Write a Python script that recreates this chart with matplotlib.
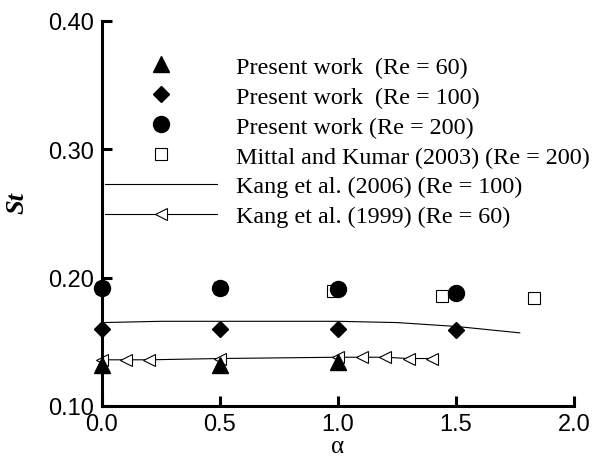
import numpy as np
import matplotlib
matplotlib.use("Agg")
import matplotlib.pyplot as plt
from matplotlib.lines import Line2D

# Strouhal number vs rotation rate alpha
alpha_re60 = [0.0, 0.5, 1.0]
st_re60 = [0.132, 0.132, 0.134]

alpha_re100 = [0.0, 0.5, 1.0, 1.5]
st_re100 = [0.160, 0.160, 0.160, 0.159]

alpha_re200 = [0.0, 0.5, 1.0, 1.5]
st_re200 = [0.192, 0.192, 0.191, 0.188]

alpha_mittal = [0.0, 0.5, 0.98, 1.44, 1.83]
st_mittal = [0.192, 0.192, 0.190, 0.186, 0.184]

alpha_kang06 = [0.0, 0.25, 0.5, 0.75, 1.0, 1.25, 1.5, 1.77]
st_kang06 = [0.165, 0.166, 0.166, 0.166, 0.166, 0.165, 0.162, 0.157]

alpha_kang99 = [0.0, 0.1, 0.2, 0.5, 1.0, 1.1, 1.2, 1.3, 1.4]
st_kang99 = [0.136, 0.136, 0.136, 0.137, 0.138, 0.138, 0.138, 0.137, 0.137]

labels = [
    "Present work  (Re = 60)",
    "Present work  (Re = 100)",
    "Present work (Re = 200)",
    "Mittal and Kumar (2003) (Re = 200)",
    "Kang et al. (2006) (Re = 100)",
    "Kang et al. (1999) (Re = 60)",
]

fig = plt.figure(figsize=(6.16, 4.6), dpi=100)
ax = fig.add_axes([102 / 616, 1 - 407 / 460, (574 - 102) / 616, (407 - 22) / 460])

ax.plot(alpha_kang06, st_kang06, color="black", lw=0.8, clip_on=False)
ax.plot(alpha_kang99, st_kang99, color="black", lw=0.8, marker="<", ms=8,
        mfc="white", mec="black", mew=0.8, clip_on=False)
ax.plot(alpha_mittal, st_mittal, ls="none", marker="s", ms=8.5, mfc="white",
        mec="black", mew=0.8, clip_on=False)
ax.plot(alpha_re60, st_re60, ls="none", marker="^", ms=11, color="black", clip_on=False)
ax.plot(alpha_re100, st_re100, ls="none", marker="D", ms=8.5, color="black", clip_on=False)
ax.plot(alpha_re200, st_re200, ls="none", marker="o", ms=11.5, color="black", clip_on=False)

ax.set_xlim(0, 2.0)
ax.set_ylim(0.10, 0.40)
ax.set_xticks([0.0, 0.5, 1.0, 1.5, 2.0])
ax.set_yticks([0.10, 0.20, 0.30, 0.40])
ax.xaxis.set_major_formatter(plt.FormatStrFormatter("%.1f"))
ax.yaxis.set_major_formatter(plt.FormatStrFormatter("%.2f"))

for side in ["top", "right"]:
    ax.spines[side].set_visible(False)
for side in ["left", "bottom"]:
    ax.spines[side].set_linewidth(2.2)

ax.tick_params(direction="in", length=7, width=2.2, labelsize=17)
ax.tick_params(axis="y", pad=6)
ax.tick_params(axis="x", pad=5)
for lab in ax.get_xticklabels() + ax.get_yticklabels():
    lab.set_family("Liberation Sans")

ax.set_xlabel("α", fontsize=18, family="Liberation Serif", labelpad=0)
ax.set_ylabel("St", fontsize=19, family="Liberation Serif", style="italic",
              weight="bold")
ax.yaxis.set_label_coords(-0.155, 0.53)

handles = [
    Line2D([], [], ls="none", marker="^", ms=11, color="black"),
    Line2D([], [], ls="none", marker="D", ms=8.5, color="black"),
    Line2D([], [], ls="none", marker="o", ms=11.5, color="black"),
    Line2D([], [], ls="none", marker="s", ms=8.5, mfc="white", mec="black", mew=0.8),
    Line2D([], [], color="black", lw=0.8),
    Line2D([], [], color="black", lw=0.8, marker="<", ms=8, mfc="white",
           mec="black", mew=0.8),
]
ax.legend(handles, labels, loc="upper left", bbox_to_anchor=(105 / 616, 1 - 57 / 460),
          bbox_transform=fig.transFigure, frameon=False, numpoints=1,
          prop={"family": "Liberation Serif", "size": 17.4}, handlelength=4.65,
          handletextpad=0.78, labelspacing=0.33, borderpad=0, borderaxespad=0)

fig.savefig("out.png", dpi=100)
